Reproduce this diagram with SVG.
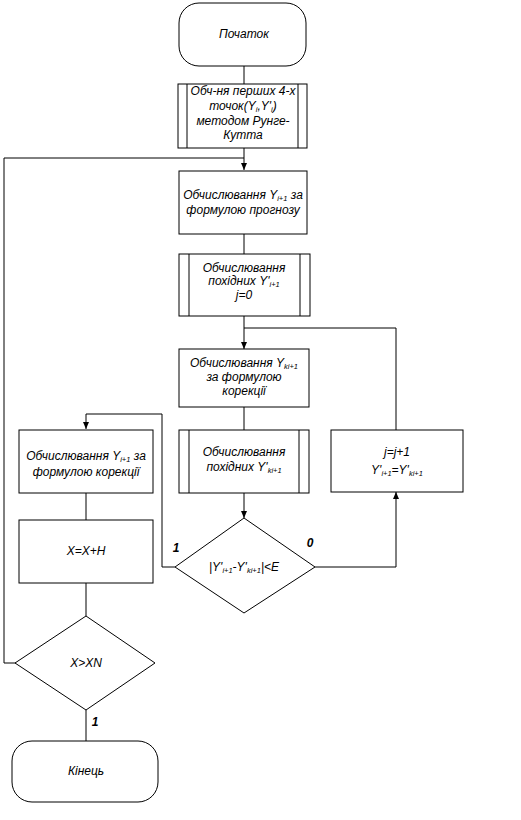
<svg xmlns="http://www.w3.org/2000/svg" width="521" height="820" viewBox="0 0 521 820">
<style>
.s{fill:#fff;stroke:#000;stroke-width:1}
.l{fill:none;stroke:#000;stroke-width:1}
text{font-family:"Liberation Sans",Arial,sans-serif;font-style:italic;font-size:12px;fill:#000;text-anchor:middle}
.sub{font-size:7.5px}
.b{font-weight:bold}
</style>
<defs>
<marker id="a" markerWidth="8" markerHeight="8" refX="7" refY="4" orient="auto" markerUnits="userSpaceOnUse">
<path d="M0,1 L7,4 L0,7 Z" fill="#000"/>
</marker>
</defs>
<rect width="521" height="820" fill="#fff"/>
<g id="connectors">
<path class="l" d="M244,66 V84"/>
<path class="l" d="M244,148 V170" marker-end="url(#a)"/>
<path class="l" d="M86,663 H4 V158 H244"/>
<path class="l" d="M244,234 V254"/>
<path class="l" d="M244,316 V349" marker-end="url(#a)"/>
<path class="l" d="M396,430 V328 H244"/>
<path class="l" d="M244,407 V430"/>
<path class="l" d="M244,493 V518" marker-end="url(#a)"/>
<path class="l" d="M315,567 H396 V492" marker-end="url(#a)"/>
<path class="l" d="M175,567 H162 V414 H86 V429" marker-end="url(#a)"/>
<path class="l" d="M86,493 V520"/>
<path class="l" d="M86,583 V616"/>
<path class="l" d="M86,710 V741"/>
<text class="b" x="176" y="552">1</text>
<text class="b" x="310" y="547">0</text>
<text class="b" x="95" y="726">1</text>
</g>
<g id="start">
<rect class="s" x="179" y="3" width="127" height="63" rx="20"/>
<text x="244" y="38">Початок</text>
</g>
<g id="rk">
<rect class="s" x="178" y="84" width="129" height="64"/>
<path class="l" d="M187,84 V148 M298,84 V148"/>
<text x="243" y="95">Обч-ня перших 4-х</text>
<text x="243" y="110">точок(Y<tspan class="sub" dy="2">i</tspan><tspan dy="-2">,Y'</tspan><tspan class="sub" dy="2">i</tspan><tspan dy="-2">)</tspan></text>
<text x="243" y="125">методом Рунге-</text>
<text x="243" y="139">Кутта</text>
</g>
<g id="predict">
<rect class="s" x="179" y="171" width="128" height="63"/>
<text x="243" y="199">Обчислювання Y<tspan class="sub" dy="2">i+1</tspan><tspan dy="-2"> за</tspan></text>
<text x="243" y="214">формулою прогнозу</text>
</g>
<g id="deriv1">
<rect class="s" x="179" y="254" width="131" height="62"/>
<path class="l" d="M189,254 V316 M300,254 V316"/>
<text x="244" y="272">Обчислювання</text>
<text x="244" y="285">похідних Y'<tspan class="sub" dy="2">i+1</tspan></text>
<text x="244" y="299">j=0</text>
</g>
<g id="correct">
<rect class="s" x="179" y="349" width="130" height="58"/>
<text x="244" y="367">Обчислювання Y<tspan class="sub" dy="2">ki+1</tspan></text>
<text x="244" y="381">за формулою</text>
<text x="244" y="395">корекції</text>
</g>
<g id="deriv2">
<rect class="s" x="179" y="430" width="130" height="63"/>
<path class="l" d="M189,430 V493 M299,430 V493"/>
<text x="244" y="456">Обчислювання</text>
<text x="244" y="471">похідних Y'<tspan class="sub" dy="2">ki+1</tspan></text>
</g>
<g id="cond">
<polygon class="s" points="244,518 315,567 244,613 175,567"/>
<text x="244" y="571">|Y'<tspan class="sub" dy="2">i+1</tspan><tspan dy="-2">-Y'</tspan><tspan class="sub" dy="2">ki+1</tspan><tspan dy="-2">|&lt;E</tspan></text>
</g>
<g id="jinc">
<rect class="s" x="331" y="430" width="132" height="62"/>
<text x="397" y="456">j=j+1</text>
<text x="397" y="474">Y'<tspan class="sub" dy="2">i+1</tspan><tspan dy="-2">=Y'</tspan><tspan class="sub" dy="2">ki+1</tspan></text>
</g>
<g id="final">
<rect class="s" x="19" y="430" width="134" height="63"/>
<text x="86" y="460">Обчислювання Y<tspan class="sub" dy="2">i+1</tspan><tspan dy="-2"> за</tspan></text>
<text x="86" y="476">формулою корекції</text>
</g>
<g id="step">
<rect class="s" x="19" y="520" width="134" height="63"/>
<text x="86" y="555">X=X+H</text>
</g>
<g id="cond2">
<polygon class="s" points="86,616 155,663 86,710 15,663"/>
<text x="86" y="667">X&gt;XN</text>
</g>
<g id="end">
<rect class="s" x="12" y="741" width="146" height="61" rx="20"/>
<text x="86" y="775">Кінець</text>
</g>
</svg>
